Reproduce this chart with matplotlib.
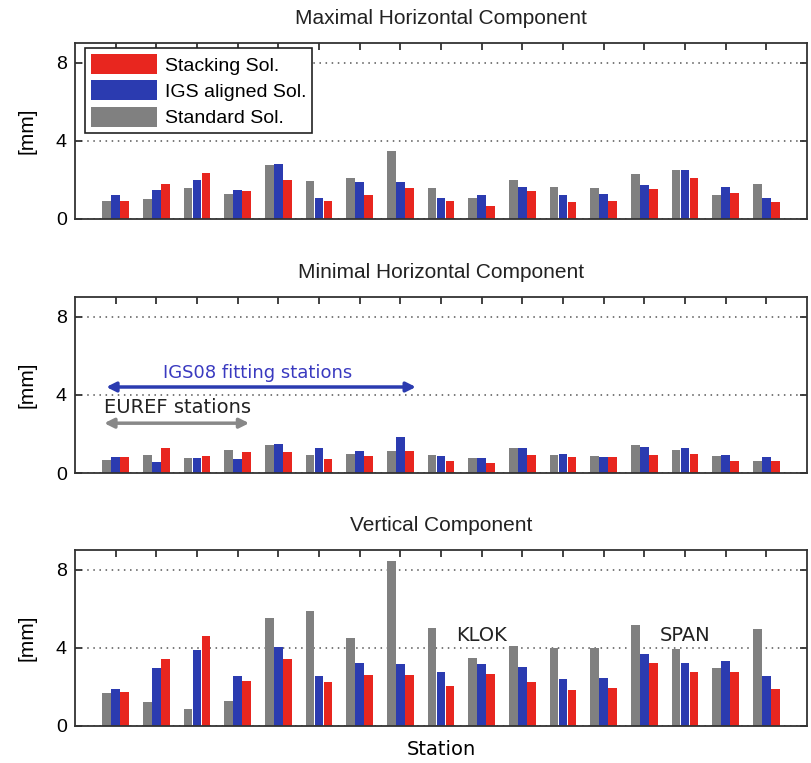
import numpy as np
import matplotlib
matplotlib.use('Agg')
import matplotlib.pyplot as plt

stations = np.arange(1, 18)

# [mm] per station: standard, IGS aligned, stacking
max_std = [0.92, 1.0, 1.56, 1.29, 2.77, 1.92, 2.07, 3.5, 1.56, 1.07, 1.99, 1.65, 1.58, 2.28, 2.48, 1.22, 1.79]
max_igs = [1.22, 1.5, 2.0, 1.5, 2.79, 1.09, 1.87, 1.87, 1.09, 1.24, 1.65, 1.22, 1.29, 1.72, 2.5, 1.65, 1.09]
max_stk = [0.94, 1.8, 2.36, 1.43, 2.0, 0.94, 1.22, 1.56, 0.94, 0.66, 1.45, 0.87, 0.94, 1.51, 2.09, 1.31, 0.87]

min_std = [0.69, 0.93, 0.78, 1.2, 1.42, 0.93, 1.0, 1.12, 0.93, 0.78, 1.27, 0.93, 0.86, 1.42, 1.2, 0.86, 0.64]
min_igs = [0.8, 0.58, 0.78, 0.71, 1.5, 1.29, 1.13, 1.86, 0.86, 0.78, 1.29, 1.0, 0.8, 1.35, 1.29, 0.93, 0.8]
min_stk = [0.8, 1.29, 0.86, 1.07, 1.07, 0.71, 0.86, 1.13, 0.64, 0.51, 0.93, 0.8, 0.8, 0.93, 1.0, 0.64, 0.64]

ver_std = [1.67, 1.23, 0.87, 1.3, 5.51, 5.87, 4.52, 8.45, 5.02, 3.46, 4.1, 4.01, 3.98, 5.15, 3.96, 2.95, 4.95]
ver_igs = [1.89, 2.97, 3.89, 2.54, 4.03, 2.54, 3.24, 3.17, 2.75, 3.17, 3.04, 2.41, 2.47, 3.67, 3.24, 3.31, 2.54]
ver_stk = [1.76, 3.4, 4.59, 2.3, 3.4, 2.24, 2.61, 2.61, 2.05, 2.68, 2.25, 1.83, 1.96, 3.24, 2.75, 2.75, 1.89]

titles = ['Maximal Horizontal Component', 'Minimal Horizontal Component', 'Vertical Component']
panels = [(max_std, max_igs, max_stk), (min_std, min_igs, min_stk), (ver_std, ver_igs, ver_stk)]

c_gray = '#808080'
c_blue = '#2b3bb0'
c_red = '#e8261f'
arial = 'Liberation Sans'

fig = plt.figure(figsize=(8.11, 7.63), dpi=100)
bottoms = [0.713, 0.380, 0.0485]
axes = []
for b in bottoms:
    axes.append(fig.add_axes([0.0925, b, 0.9026, 0.2307]))

w = 0.215
for ax, title, (s, g, r) in zip(axes, titles, panels):
    b_std = ax.bar(stations - 0.22, s, w, color=c_gray, label='Standard Sol.')
    b_igs = ax.bar(stations, g, w, color=c_blue, label='IGS aligned Sol.')
    b_stk = ax.bar(stations + 0.22, r, w, color=c_red, label='Stacking Sol.')
    ax.set_xlim(0, 18)
    ax.set_ylim(0, 9)
    ax.set_yticks([0, 4, 8])
    ax.set_xticks(stations)
    ax.set_xticklabels([])
    ax.tick_params(axis='both', direction='in', top=True, right=True,
                   length=5, width=1.3, labelsize=14, color='#333333', pad=6)
    for lab in ax.get_yticklabels():
        lab.set_family(arial)
    ax.yaxis.grid(True, linestyle=(0, (1, 3)), color='#555555', linewidth=1.1)
    ax.set_axisbelow(True)
    for sp in ax.spines.values():
        sp.set_color('#333333')
        sp.set_linewidth(1.3)
    ax.set_title(title, fontsize=15, family=arial, color='#222222', pad=14)
    ax.set_ylabel('[mm]', fontsize=15, family=arial, labelpad=14)

leg = axes[0].legend(handles=[b_stk, b_igs, b_std], loc='upper left',
                     bbox_to_anchor=(0.014, 0.97), prop={'family': arial, 'size': 14},
                     fancybox=False, edgecolor='#222222', framealpha=1,
                     handlelength=3.4, handleheight=1.2, borderpad=0.3,
                     labelspacing=0.3, handletextpad=0.4, borderaxespad=0)
leg.get_frame().set_linewidth(1.2)

ax = axes[1]
ax.annotate('', xy=(0.7, 4.4), xytext=(8.45, 4.4),
            arrowprops=dict(arrowstyle='<|-|>', color=c_blue, lw=2.5, mutation_scale=14))
ax.text(4.5, 5.1, 'IGS08 fitting stations', color='#3a3ac0', fontsize=13, ha='center', va='center')
ax.annotate('', xy=(0.65, 2.55), xytext=(4.35, 2.55),
            arrowprops=dict(arrowstyle='<|-|>', color='#888888', lw=2.5, mutation_scale=14))
ax.text(0.72, 3.35, 'EUREF stations', color='#222222', fontsize=14, ha='left', va='center')

ax = axes[2]
ax.text(10, 4.65, 'KLOK', fontsize=14, ha='center', va='center', color='#222222')
ax.text(15, 4.65, 'SPAN', fontsize=14, ha='center', va='center', color='#222222')
ax.set_xlabel('Station', fontsize=14, labelpad=4)

fig.savefig('out.png', dpi=100)
